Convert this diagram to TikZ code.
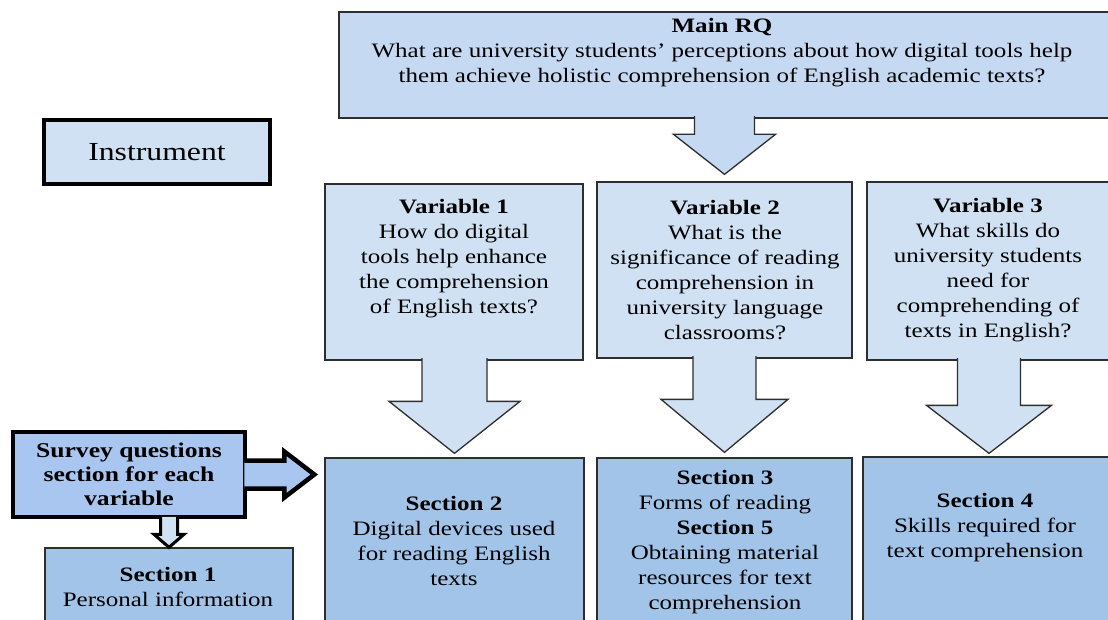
\documentclass[tikz,border=0pt]{standalone}
\usepackage{fontspec}
\setmainfont{Liberation Serif}[FakeStretch=1.22]
\usetikzlibrary{calc}

\definecolor{rqfill}{HTML}{C6D9F3}
\definecolor{varfill}{HTML}{CFE1F3}
\definecolor{secfill}{HTML}{A1C4E8}
\definecolor{surveyfill}{HTML}{A9C6F0}
\definecolor{edge}{HTML}{2E2E2E}

% block arrow pointing down: from, to, style, shaft half, head half, head length, gap
\newcommand{\blockdown}[7]{%
	\filldraw[#3] let \p1=(#1.south), \p2=(#2.north) in
		(\x2-#4pt, \y1+2.5pt) -- (\x2-#4pt, \y2+#7pt+#6pt) -- (\x2-#5pt, \y2+#7pt+#6pt)
		-- (\x2, \y2+#7pt) -- (\x2+#5pt, \y2+#7pt+#6pt) -- (\x2+#4pt, \y2+#7pt+#6pt)
		-- (\x2+#4pt, \y1+2.5pt);
}

\tikzset{
	thinbox/.style={draw=edge, line width=1.3pt, inner sep=0pt},
	thickbox/.style={draw=black, line width=4pt, inner sep=0pt},
	txt/.style={align=center, font=\fontsize{20.5}{25}\selectfont},
	thinarrow/.style={draw=edge, line width=1.3pt, line join=miter},
}

\begin{document}
\begin{tikzpicture}[x=1pt, y=-1pt]
	\useasboundingbox (0,0) rectangle (1108,620);
	\clip (0,0) rectangle (1108,620);

	% Boxes:
	\node[thinbox, fill=rqfill, minimum width=773pt, minimum height=106pt] (mainq) at (725.5, 65) {};
	\node[thickbox, line width=3.5pt, fill=varfill, minimum width=226pt, minimum height=64pt,
		font=\fontsize{26}{32}\selectfont] (instr) at (157, 152) {Instrument};

	\node[thinbox, fill=varfill, minimum width=258pt, minimum height=176pt] (var1) at (454, 272) {};
	\node[thinbox, fill=varfill, minimum width=255pt, minimum height=176pt] (var2) at (724.5, 270) {};
	\node[thinbox, fill=varfill, minimum width=248pt, minimum height=178pt] (var3) at (991, 271) {};

	\node[thinbox, fill=secfill, minimum width=248pt, minimum height=92pt] (sec1) at (169, 594) {};
	\node[thinbox, fill=secfill, minimum width=259pt, minimum height=182pt] (sec2) at (454.5, 549) {};
	\node[thinbox, fill=secfill, minimum width=255pt, minimum height=182pt] (sec3) at (724.5, 549) {};
	\node[thinbox, fill=secfill, minimum width=252pt, minimum height=183pt] (sec4) at (989, 548.5) {};

	\node[thickbox, line width=4.5pt, fill=surveyfill, minimum width=232pt, minimum height=85pt,
		txt, font=\fontsize{21}{24}\selectfont\bfseries] (survey) at (129, 474.5)
		{Survey questions\\section for each\\variable};

	% Arrows:
	\blockdown{mainq}{var2}{thinarrow, fill=rqfill}{30}{51}{40}{7}
	\blockdown{var1}{sec2}{thinarrow, fill=varfill}{32.5}{65.5}{52}{4}
	\blockdown{var2}{sec3}{thinarrow, fill=varfill}{31.5}{63.5}{53}{5}
	\blockdown{var3}{sec4}{thinarrow, fill=varfill}{31.5}{62.5}{48}{3}
	\blockdown{survey}{sec1}{draw=black, line width=3pt, line join=miter, fill=varfill}{8.5}{15}{13}{0}
	\filldraw[draw=black, line width=4.5pt, line join=miter, fill=surveyfill]
		let \p1=(survey.east), \p2=(sec2.west) in
		(\x1-3pt, \y1+14pt) -- (\x2-40pt, \y1+14pt) -- (\x2-40pt, \y1+23pt) -- (\x2-10pt, \y1)
		-- (\x2-40pt, \y1-23pt) -- (\x2-40pt, \y1-14pt) -- (\x1-3pt, \y1-14pt);

	% Texts:
	\node[txt] (mainqtxt) at (722, 53) {\textbf{Main RQ}\\What are university students' perceptions about how digital tools help\\them achieve holistic comprehension of English academic texts?};
	\node[txt] (var1txt) at (454, 258.5) {\textbf{Variable 1}\\How do digital\\tools help enhance\\the comprehension\\of English texts?};
	\node[txt] (var2txt) at (725, 270.5) {\textbf{Variable 2}\\What is the\\significance of reading\\comprehension in\\university language\\classrooms?};
	\node[txt] (var3txt) at (988, 270.5) {\textbf{Variable 3}\\What skills do\\university students\\need for\\comprehending of\\texts in English?};
	\node[txt] (sec1txt) at (168, 587) {\textbf{Section 1}\\Personal information};
	\node[txt] (sec2txt) at (454, 541) {\textbf{Section 2}\\Digital devices used\\for reading English\\texts};
	\node[txt] (sec3txt) at (725, 542.5) {\textbf{Section 3}\\Forms of reading\\\textbf{Section 5}\\Obtaining material\\resources for text\\comprehension};
	\node[txt] (sec4txt) at (985, 528) {\textbf{Section 4}\\Skills required for\\text comprehension};
\end{tikzpicture}
\end{document}
